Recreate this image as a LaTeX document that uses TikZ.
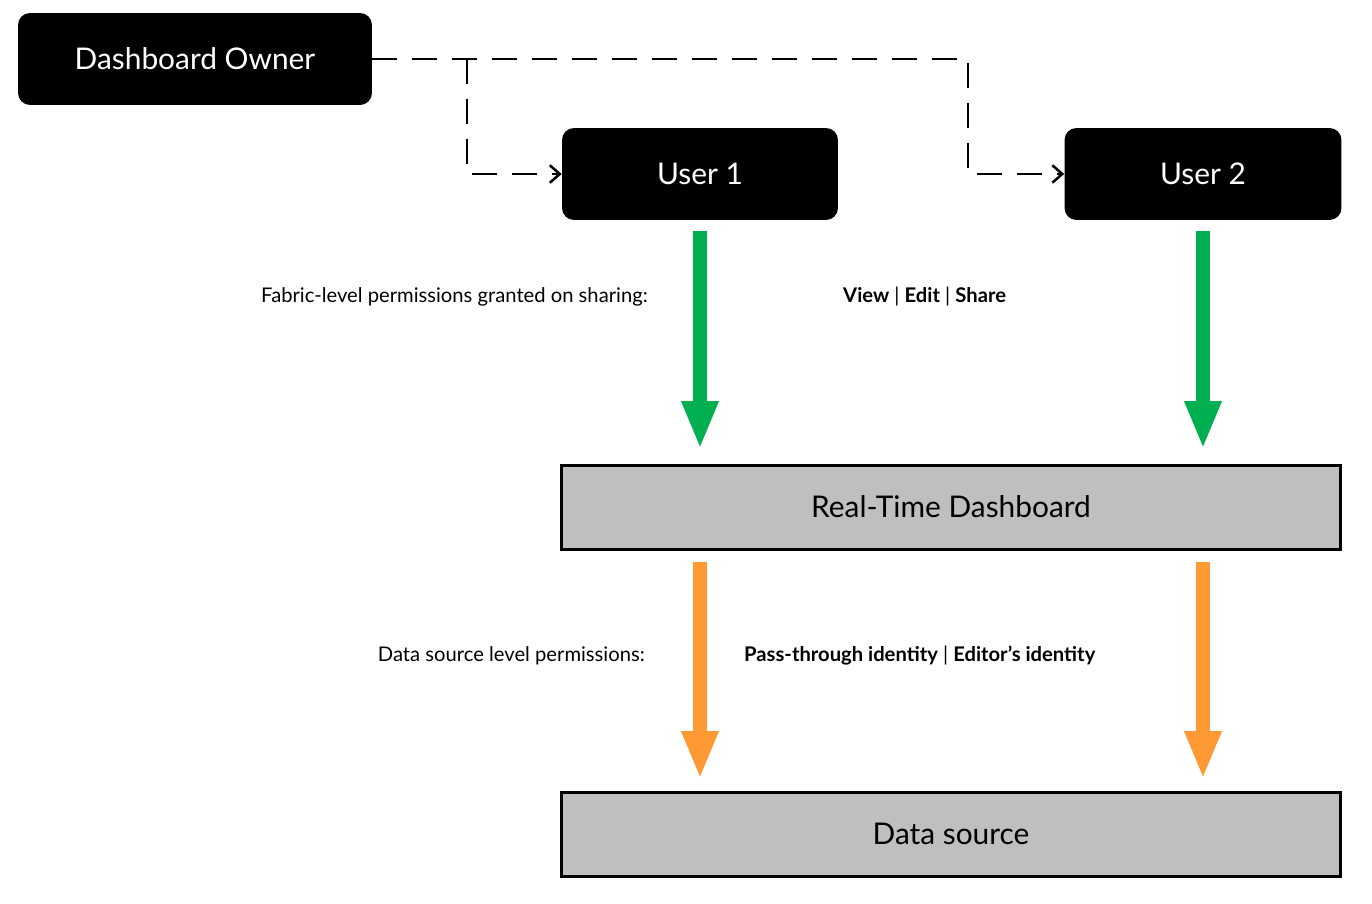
\documentclass[tikz,border=0pt]{standalone}
\usepackage{fontspec}
\setmainfont{Lato}
\usetikzlibrary{arrows.meta,positioning}
\definecolor{permgreen}{HTML}{00B050}
\definecolor{permorange}{HTML}{FF9933}
\definecolor{boxgray}{HTML}{BFBFBF}
\tikzset{
  person/.style={fill=black,text=white,rounded corners=0.24cm,minimum height=1.84cm,font=\fontsize{17}{20}\selectfont},
  layer/.style={draw=black,line width=0.06cm,fill=boxgray,minimum width=15.58cm,minimum height=1.68cm,font=\fontsize{17}{20}\selectfont},
  share/.style={dashed,dash pattern=on 0.5cm off 0.3cm,line width=0.05cm,-{Straight Barb[length=0.2cm,width=0.35cm]}},
  fat/.style={line width=0.28cm,-{Triangle[length=0.96cm,width=0.68cm]}},
  note/.style={font=\fontsize{11.5}{14}\selectfont}
}
\begin{document}
\begin{tikzpicture}[x=0.02cm,y=-0.02cm]
        \useasboundingbox (0,0) rectangle (1372,903);
        % people
        \node[person,minimum width=7.08cm] (owner) at (195,59) {Dashboard Owner};
        \node[person,minimum width=5.52cm] (u1) at (700,174) {User 1};
        \node[person,minimum width=5.54cm] (u2) at (1203,174) {User 2};
        % layers
        \node[layer] (dash) at (951,507) {Real-Time Dashboard};
        \node[layer] (src) at (951,834) {Data source};
        % sharing
        \coordinate (b1) at (467,59);
        \coordinate (b2) at (968,59);
        \draw[share] (owner.east) -- (b2) |- (u2.west);
        \draw[share] (b1) |- (u1.west);
        % permissions
        \foreach \x in {700,1203}{
          \draw[fat,permgreen] (\x,231) -- (\x,449);
          \draw[fat,permorange] (\x,562) -- (\x,779);
        }
        \node[note,anchor=east] (fab) at (654,297) {Fabric-level permissions granted on sharing:};
        \node[note,anchor=west] (ves) at (837,297) {\textbf{View} | \textbf{Edit} | \textbf{Share}};
        \node[note,anchor=east] (dsl) at (651,656) {Data source level permissions:};
        \node[note,anchor=west] (ids) at (738,656) {\textbf{Pass-through identity} | \textbf{Editor’s identity}};
\end{tikzpicture}
\end{document}
